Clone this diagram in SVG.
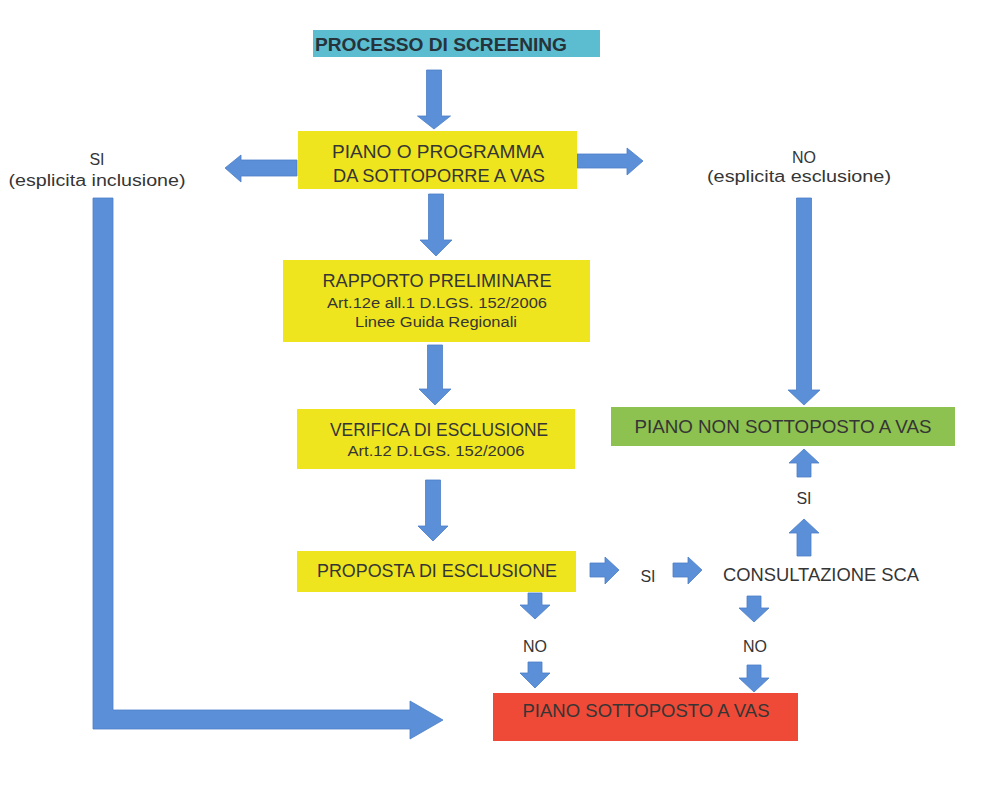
<svg xmlns="http://www.w3.org/2000/svg" width="997" height="807" viewBox="0 0 997 807">
<style>
text{font-family:"Liberation Sans",Arial,sans-serif;fill:#353535;text-anchor:middle}
.b{font-weight:bold;font-size:18px;fill:#26333a}
.t{font-size:17.5px}
.s{font-size:14px}
.l{font-size:16px}
.arr{fill:#5b8fd8;stroke:#4d7fc6;stroke-width:0.8}
.y{fill:#eee51e}
</style>
<rect width="997" height="807" fill="#ffffff"/>
<g id="connectors">
<polygon class="arr" points="426.5,70 441.5,70 441.5,116 450.5,116 434,129 417.5,116 426.5,116"/>
<polygon class="arr" points="428.5,194 443.5,194 443.5,240 452,240 436,256 420,240 428.5,240"/>
<polygon class="arr" points="427.5,345 442.5,345 442.5,389 451,389 435,405 419,389 427.5,389"/>
<polygon class="arr" points="425.5,480 440.5,480 440.5,526 448,526 433,541 418,526 425.5,526"/>
<polygon class="arr" points="297,160 241,160 241,155 225,168 241,182 241,176 297,176"/>
<polygon class="arr" points="577,154 627,154 627,148 643,161 627,175 627,168 577,168"/>
<polygon class="arr" points="796.5,198 811.5,198 811.5,390 820,390 804,405 788,390 796.5,390"/>
<polygon class="arr" points="797,477 811,477 811,463 819,463 804,449 789,463 797,463"/>
<polygon class="arr" points="797,556 811,556 811,533 819,533 804,519 789,533 797,533"/>
<polygon class="arr" points="590,563 605,563 605,557 619,570 605,584 605,577 590,577"/>
<polygon class="arr" points="673,563 688,563 688,557 702,570 688,584 688,577 673,577"/>
<polygon class="arr" points="528,593 542,593 542,605 550,605 535,619 520,605 528,605"/>
<polygon class="arr" points="528,662 542,662 542,673 550,673 535,688 520,673 528,673"/>
<polygon class="arr" points="747,596 761,596 761,608 769,608 754,622 739,608 747,608"/>
<polygon class="arr" points="747,665 761,665 761,678 769,678 754,692 739,678 747,678"/>
<path class="arr" d="M93,198 H113 V710 H410 V701 L443,720 L410,739 V729 H93 Z"/>
</g>
<g id="screening">
<rect x="313" y="30" width="287" height="27" fill="#5bbdcf"/>
<text class="b" x="441" y="51" textLength="252" lengthAdjust="spacingAndGlyphs">PROCESSO DI SCREENING</text>
</g>
<g id="piano">
<rect class="y" x="298" y="131" width="279" height="58"/>
<text class="t" x="438" y="158" textLength="212" lengthAdjust="spacingAndGlyphs">PIANO O PROGRAMMA</text>
<text class="t" x="439" y="182" textLength="212" lengthAdjust="spacingAndGlyphs">DA SOTTOPORRE A VAS</text>
</g>
<g id="si-inclusione">
<text class="l" x="97" y="165">SI</text>
<text class="l" x="97" y="186" textLength="177" lengthAdjust="spacingAndGlyphs">(esplicita inclusione)</text>
</g>
<g id="no-esclusione">
<text class="l" x="804" y="163">NO</text>
<text class="l" x="799" y="182" textLength="184" lengthAdjust="spacingAndGlyphs">(esplicita esclusione)</text>
</g>
<g id="rapporto">
<rect class="y" x="283" y="260" width="307" height="82"/>
<text class="t" x="437" y="287" textLength="229" lengthAdjust="spacingAndGlyphs">RAPPORTO PRELIMINARE</text>
<text class="s" x="437" y="308" textLength="220" lengthAdjust="spacingAndGlyphs">Art.12e all.1 D.LGS. 152/2006</text>
<text class="s" x="436" y="327" textLength="162" lengthAdjust="spacingAndGlyphs">Linee Guida Regionali</text>
</g>
<g id="verifica">
<rect class="y" x="297" y="409" width="278" height="60"/>
<text class="t" x="439" y="436" textLength="218" lengthAdjust="spacingAndGlyphs">VERIFICA DI ESCLUSIONE</text>
<text class="s" x="436" y="456" textLength="177" lengthAdjust="spacingAndGlyphs">Art.12 D.LGS. 152/2006</text>
</g>
<g id="non-sottoposto">
<rect x="611" y="407" width="344" height="39" fill="#8dc150"/>
<text class="t" x="783" y="433" textLength="297" lengthAdjust="spacingAndGlyphs">PIANO NON SOTTOPOSTO A VAS</text>
</g>
<g id="si-sca">
<text class="l" x="804" y="504">SI</text>
</g>
<g id="proposta">
<rect class="y" x="297" y="551" width="279" height="41"/>
<text class="t" x="437" y="577" textLength="240" lengthAdjust="spacingAndGlyphs">PROPOSTA DI ESCLUSIONE</text>
</g>
<g id="si-proposta">
<text class="l" x="648" y="582">SI</text>
</g>
<g id="consultazione">
<text class="t" x="821" y="581" textLength="196" lengthAdjust="spacingAndGlyphs">CONSULTAZIONE SCA</text>
</g>
<g id="no-left">
<text class="l" x="535" y="652">NO</text>
</g>
<g id="no-right">
<text class="l" x="755" y="652">NO</text>
</g>
<g id="sottoposto">
<rect x="493" y="693" width="305" height="48" fill="#ee4a37"/>
<text class="t" x="646" y="717" textLength="247" lengthAdjust="spacingAndGlyphs">PIANO SOTTOPOSTO A VAS</text>
</g>
</svg>
